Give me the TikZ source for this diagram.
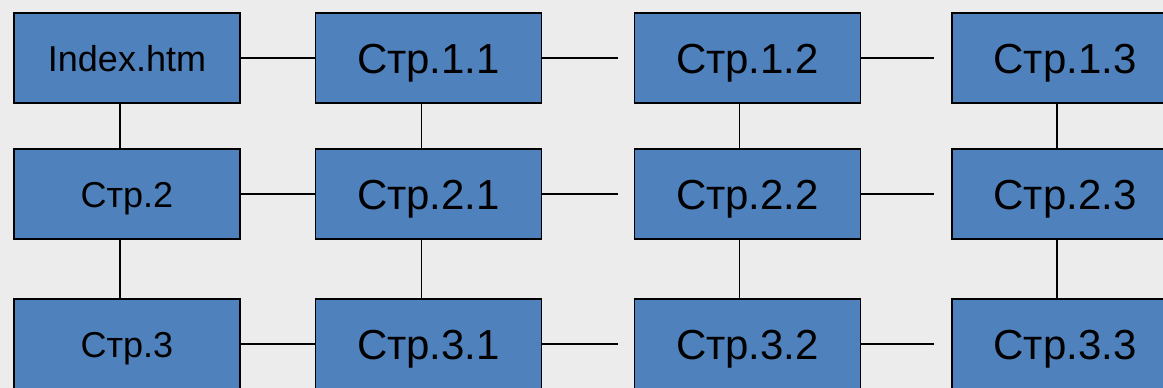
\documentclass[tikz,border=0pt]{standalone}
\usepackage{fontspec}
\setmainfont{Liberation Sans}
\definecolor{pagefill}{RGB}{79,129,189}
\definecolor{backgr}{RGB}{236,236,236}
\tikzset{
  pagebox/.style={draw=black, line width=1.8pt, fill=pagefill, minimum width=226pt,
    minimum height=90pt, inner sep=0pt, text height=30pt, text depth=0pt,
    font=\fontsize{42}{46}\selectfont},
  smalltext/.style={font=\fontsize{36}{40}\selectfont, text height=27pt},
  link/.style={line width=1.4pt}
}
\begin{document}
\begin{tikzpicture}[x=1pt, y=-1pt]
  \fill[backgr] (0,0) rectangle (1163,388);
  \useasboundingbox (0,0) rectangle (1163,388);
  % row 1
  \node[pagebox, smalltext] (index) at (127,58) {Index.htm};
  \node[pagebox] (p11) at (428.5,58) {Стр.1.1};
  \node[pagebox] (p12) at (747.5,58) {Стр.1.2};
  \node[pagebox] (p13) at (1065,58) {Стр.1.3};
  % row 2
  \node[pagebox, smalltext] (p2) at (127,194) {Стр.2};
  \node[pagebox] (p21) at (428.5,194) {Стр.2.1};
  \node[pagebox] (p22) at (747.5,194) {Стр.2.2};
  \node[pagebox] (p23) at (1065,194) {Стр.2.3};
  % row 3
  \node[pagebox, smalltext] (p3) at (127,344) {Стр.3};
  \node[pagebox] (p31) at (428.5,344) {Стр.3.1};
  \node[pagebox] (p32) at (747.5,344) {Стр.3.2};
  \node[pagebox] (p33) at (1065,344) {Стр.3.3};
  % horizontal links
  \draw[link] (index.east) -- (p11.west);
  \draw[link] (p11.east) -- ([xshift=-16pt]p12.west);
  \draw[link] (p12.east) -- ([xshift=-17pt]p13.west);
  \draw[link] (p2.east) -- (p21.west);
  \draw[link] (p21.east) -- ([xshift=-16pt]p22.west);
  \draw[link] (p22.east) -- ([xshift=-17pt]p23.west);
  \draw[link] (p3.east) -- (p31.west);
  \draw[link] (p31.east) -- ([xshift=-16pt]p32.west);
  \draw[link] (p32.east) -- ([xshift=-17pt]p33.west);
  % vertical links
  \draw[link] ([xshift=-7pt]index.south) -- ([xshift=-7pt]p2.north);
  \draw[link] ([xshift=-7pt]p2.south) -- ([xshift=-7pt]p3.north);
  \draw[link] ([xshift=-7pt]p11.south) -- ([xshift=-7pt]p21.north);
  \draw[link] ([xshift=-7pt]p21.south) -- ([xshift=-7pt]p31.north);
  \draw[link] ([xshift=-8pt]p12.south) -- ([xshift=-8pt]p22.north);
  \draw[link] ([xshift=-8pt]p22.south) -- ([xshift=-8pt]p32.north);
  \draw[link] ([xshift=-8pt]p13.south) -- ([xshift=-8pt]p23.north);
  \draw[link] ([xshift=-8pt]p23.south) -- ([xshift=-8pt]p33.north);
\end{tikzpicture}
\end{document}
